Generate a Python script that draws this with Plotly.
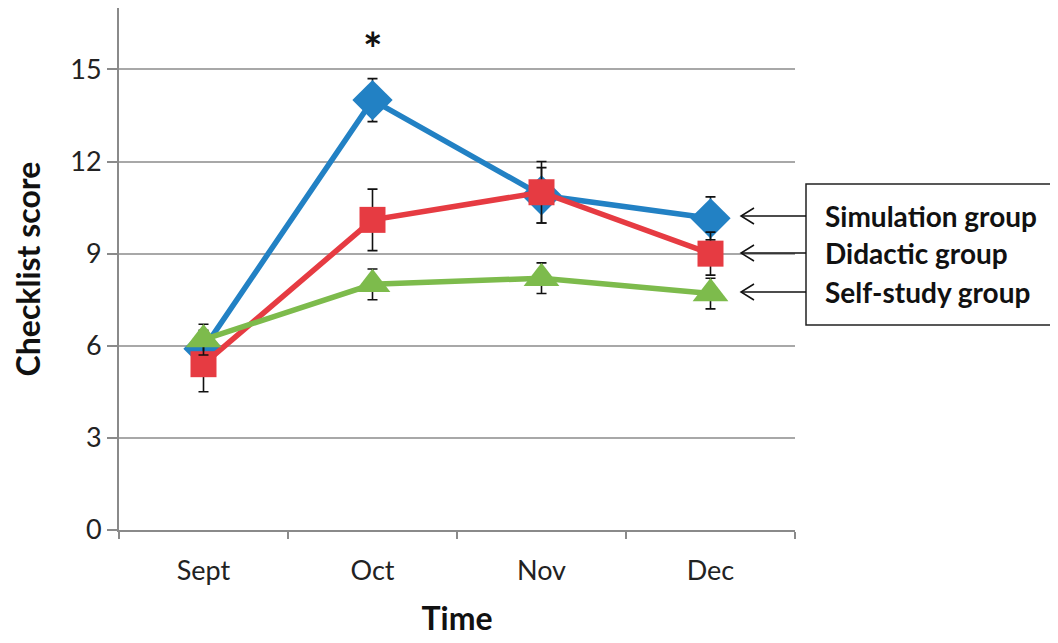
import plotly.graph_objects as go

months = ["Sept", "Oct", "Nov", "Dec"]
simulation = [5.9, 14.0, 10.9, 10.15]
simulation_err = [0.6, 0.7, 0.9, 0.7]
didactic = [5.4, 10.1, 11.0, 9.0]
didactic_err = [0.9, 1.0, 1.0, 0.7]
selfstudy = [6.2, 8.0, 8.2, 7.7]
selfstudy_err = [0.5, 0.5, 0.5, 0.5]
group_names = ["Simulation group", "Didactic group", "Self-study group"]
y_ticks = [0, 3, 6, 9, 12, 15]

FONT = "Lato"
BLUE = "#2281c4"
RED = "#e63b42"
GREEN = "#7dbb4c"

fig = go.Figure()

def add(vals, errs, color, symbol, size, name):
    fig.add_trace(go.Scatter(
        x=months, y=vals, name=name, mode="lines+markers",
        line=dict(color=color, width=5.5),
        marker=dict(symbol=symbol, size=size, color=color),
        error_y=dict(type="data", array=errs, color="#111111", thickness=1.6, width=5),
    ))

add(simulation, simulation_err, BLUE, "diamond", 31, group_names[0])
add(didactic, didactic_err, RED, "square", 26, group_names[1])
add(selfstudy, selfstudy_err, GREEN, "triangle-up", 31, group_names[2])

# page body has an 8px offset
OFF = 8
L, R, T, B = 119 - OFF, 263, 0, 113
W, H = 1050, 635
pw = W - L - R
ph = H - T - B

def px(x):
    return (x - OFF - L) / pw

def py(y):
    return (H - B - (y - OFF)) / ph

shapes = []
shapes.append(dict(type="rect", xref="paper", yref="paper",
                   x0=px(806), x1=px(1075), y0=py(325), y1=py(184),
                   line=dict(color="#222222", width=1.5), fillcolor="white"))
arrow_y = [216, 253, 292]
for ay in arrow_y:
    shapes.append(dict(type="line", xref="paper", yref="paper",
                       x0=px(741), x1=px(806), y0=py(ay), y1=py(ay),
                       line=dict(color="#111111", width=1.5)))
    shapes.append(dict(type="path", xref="paper", yref="paper",
                       path=f"M {px(754)},{py(ay-8)} L {px(741)},{py(ay)} L {px(754)},{py(ay+8)}",
                       line=dict(color="#111111", width=1.5)))

annotations = []
for name, ay in zip(group_names, arrow_y):
    annotations.append(dict(text=name, xref="paper", yref="paper",
                            x=px(823), y=py(ay), xanchor="left", yanchor="middle",
                            showarrow=False,
                            font=dict(family=FONT, size=28, color="#111111", weight="bold")))
annotations.append(dict(text="*", x="Oct", y=14.0, yref="y", xref="x",
                        yshift=52, showarrow=False,
                        font=dict(family=FONT, size=46, color="#111111", weight="bold")))

fig.update_layout(
    width=W, height=H,
    margin=dict(l=L, r=R, t=T, b=B),
    paper_bgcolor="white", plot_bgcolor="white",
    showlegend=False,
    shapes=shapes, annotations=annotations,
    font=dict(family=FONT, color="#222222"),
)
fig.update_xaxes(
    type="category", tickson="boundaries", range=[-0.5, 3.5],
    showline=True, linecolor="#8a8a8a", linewidth=2,
    ticks="outside", ticklen=7, tickcolor="#8a8a8a", tickwidth=1.5,
    ticklabelstandoff=16,
    showgrid=False, zeroline=False, automargin=False,
    tickfont=dict(family=FONT, size=27, color="#222222"),
    title=dict(text="Time", font=dict(family=FONT, size=32, color="#111111", weight="bold"), standoff=22),
)
fig.update_yaxes(
    range=[0, 17], tickvals=y_ticks,
    showline=True, linecolor="#8a8a8a", linewidth=2,
    ticks="outside", ticklen=10, tickcolor="#8a8a8a", tickwidth=1.5,
    showgrid=True, gridcolor="#a8a8a8", gridwidth=1.5, zeroline=False, automargin=False,
    tickfont=dict(family=FONT, size=27, color="#222222"),
    title=dict(text="Checklist score", font=dict(family=FONT, size=32, color="#111111", weight="bold"), standoff=30),
)

fig.write_html("out.html")
